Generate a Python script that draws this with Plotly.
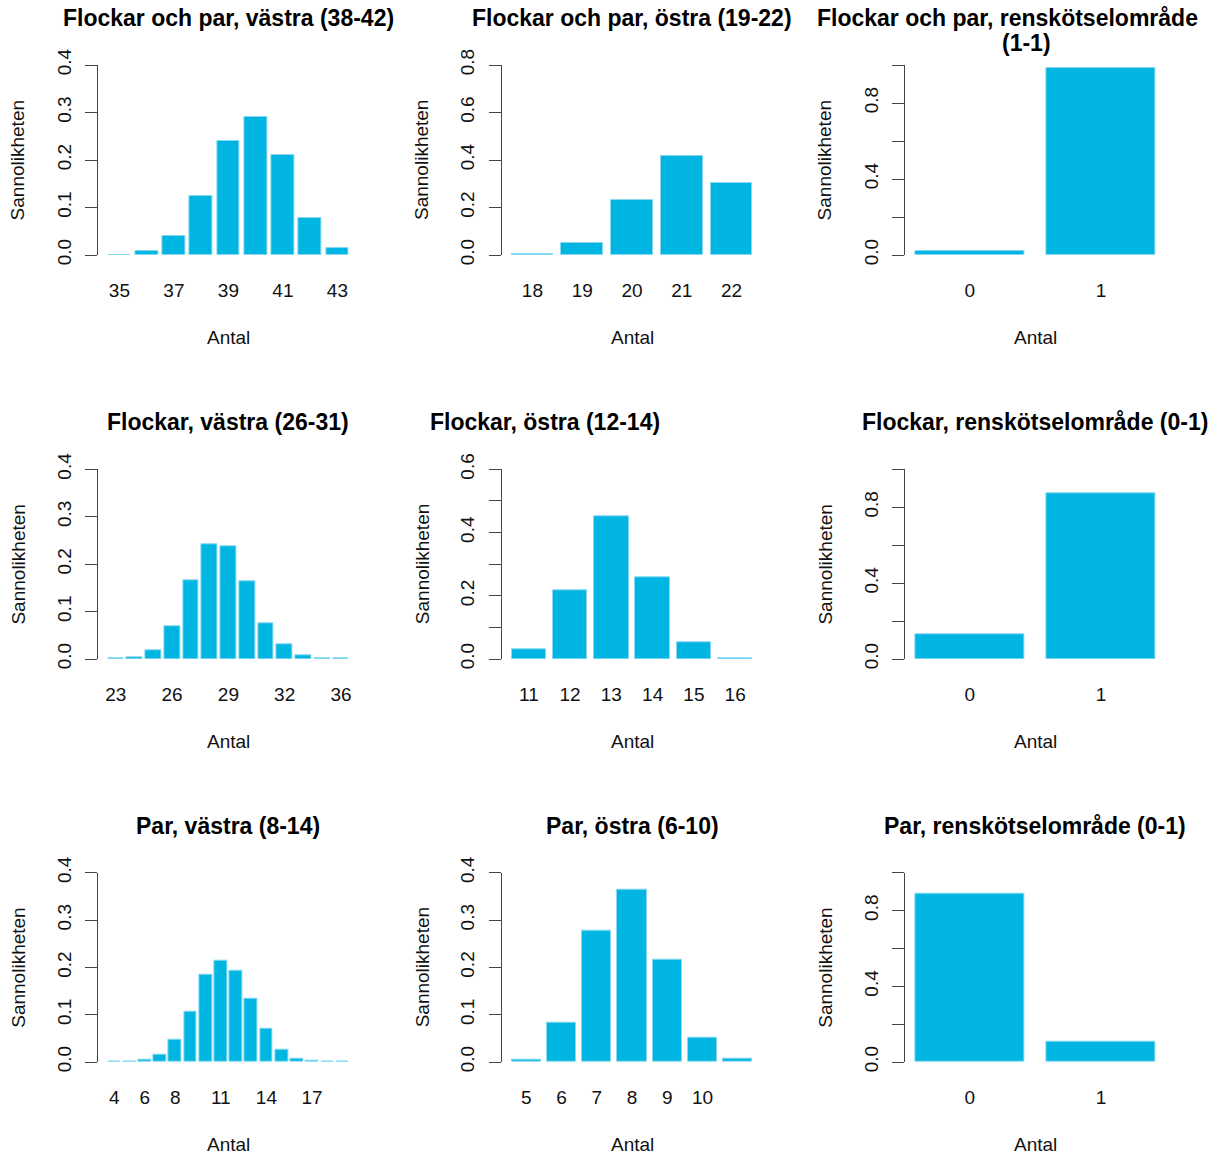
import plotly.graph_objects as go

# ---------------- data ----------------
titles = [
    ["Flockar och par, västra (38-42)"],
    ["Flockar och par, östra (19-22)"],
    ["Flockar och par, renskötselområde", "(1-1)"],
    ["Flockar, västra (26-31)"],
    ["Flockar, östra (12-14)"],
    ["Flockar, renskötselområde (0-1)"],
    ["Par, västra (8-14)"],
    ["Par, östra (6-10)"],
    ["Par, renskötselområde (0-1)"],
]

cats_fp_v = [35, 36, 37, 38, 39, 40, 41, 42, 43]
vals_fp_v = [0.001, 0.008, 0.041, 0.124, 0.240, 0.290, 0.210, 0.078, 0.014]
shown_fp_v = [35, 37, 39, 41, 43]

cats_fp_o = [18, 19, 20, 21, 22]
vals_fp_o = [0.004, 0.049, 0.230, 0.417, 0.305]
shown_fp_o = [18, 19, 20, 21, 22]

cats_fp_r = [0, 1]
vals_fp_r = [0.021, 0.982]
shown_fp_r = [0, 1]

cats_f_v = [23, 24, 25, 26, 27, 28, 29, 30, 31, 32, 33, 34, 36]
vals_f_v = [0.0007, 0.0035, 0.018, 0.070, 0.167, 0.241, 0.238, 0.163, 0.075, 0.031, 0.008, 0.002, 0.001]
shown_f_v = [23, 26, 29, 32, 36]

cats_f_o = [11, 12, 13, 14, 15, 16]
vals_f_o = [0.031, 0.217, 0.452, 0.257, 0.053, 0.003]
shown_f_o = [11, 12, 13, 14, 15, 16]

cats_f_r = [0, 1]
vals_f_r = [0.130, 0.872]
shown_f_r = [0, 1]

cats_p_v = [4, 5, 6, 7, 8, 9, 10, 11, 12, 13, 14, 15, 16, 17, 18, 19]
vals_p_v = [0.0007, 0.0015, 0.004, 0.015, 0.048, 0.106, 0.184, 0.215, 0.192, 0.134, 0.070, 0.025, 0.006, 0.003, 0.0015, 0.0007]
shown_p_v = [4, 6, 8, 11, 14, 17]

cats_p_o = [5, 6, 7, 8, 9, 10, 11]
vals_p_o = [0.004, 0.082, 0.277, 0.365, 0.217, 0.051, 0.006]
shown_p_o = [5, 6, 7, 8, 9, 10]

cats_p_r = [0, 1]
vals_p_r = [0.891, 0.107]
shown_p_r = [0, 1]

# y axis ticks (value, label)
yticks_04 = [0.0, 0.1, 0.2, 0.3, 0.4]
ylabs_04 = ["0.0", "0.1", "0.2", "0.3", "0.4"]
yticks_08 = [0.0, 0.2, 0.4, 0.6, 0.8]
ylabs_08 = ["0.0", "0.2", "0.4", "0.6", "0.8"]
yticks_10 = [0.0, 0.2, 0.4, 0.6, 0.8, 1.0]
ylabs_10 = ["0.0", "", "0.4", "", "0.8", ""]
yticks_06 = [0.0, 0.1, 0.2, 0.3, 0.4, 0.5, 0.6]
ylabs_06 = ["0.0", "", "0.2", "", "0.4", "", "0.6"]

panels = [
    (cats_fp_v, vals_fp_v, shown_fp_v, 0.4, yticks_04, ylabs_04),
    (cats_fp_o, vals_fp_o, shown_fp_o, 0.8, yticks_08, ylabs_08),
    (cats_fp_r, vals_fp_r, shown_fp_r, 1.0, yticks_10, ylabs_10),
    (cats_f_v, vals_f_v, shown_f_v, 0.4, yticks_04, ylabs_04),
    (cats_f_o, vals_f_o, shown_f_o, 0.6, yticks_06, ylabs_06),
    (cats_f_r, vals_f_r, shown_f_r, 1.0, yticks_10, ylabs_10),
    (cats_p_v, vals_p_v, shown_p_v, 0.4, yticks_04, ylabs_04),
    (cats_p_o, vals_p_o, shown_p_o, 0.4, yticks_04, ylabs_04),
    (cats_p_r, vals_p_r, shown_p_r, 1.0, yticks_10, ylabs_10),
]

# ---------------- layout geometry (pixels) ----------------
W, H = 1222, 1155
col_left = [98.4, 502.0, 905.4]
plot_w = 260.0
row_zero = [255.0, 659.0, 1062.0]
row_top = [65.0, 469.3, 872.7]
title_y = [18.0, 422.0, 826.0]
title_line_gap = 25.0
# titles that are not centred over their plot region in the original
title_centres_special = {2: [1007.0, 1026.0], 4: [545.0]}

FONT = "Liberation Sans, Arial, Helvetica, sans-serif"
BAR = "#00B5E2"
EDGE = "#86D9F2"

def px_x(x):
    return x / W

def px_y(y):
    return 1 - y / H

fig = go.Figure()
annotations = []
layout = {}

for k, (cats, vals, shown, ymax, ytv, ytt) in enumerate(panels):
    r, c = divmod(k, 3)
    n = len(cats)
    centers = [0.7 + 1.2 * i for i in range(n)]
    span = 1.2 * n - 0.2
    xr = [0.2 - 0.04 * span, 1.2 * n + 0.04 * span]
    xa = "x" if k == 0 else f"x{k+1}"
    ya = "y" if k == 0 else f"y{k+1}"
    fig.add_trace(go.Bar(
        x=centers, y=vals, width=1.0,
        marker=dict(color=BAR, line=dict(color=EDGE, width=1)),
        xaxis=xa, yaxis=ya, showlegend=False, hoverinfo="skip",
    ))
    tv = [centers[cats.index(s)] for s in shown]
    tt = [str(s) for s in shown]
    xkey = "xaxis" if k == 0 else f"xaxis{k+1}"
    ykey = "yaxis" if k == 0 else f"yaxis{k+1}"
    layout[xkey] = dict(
        domain=[px_x(col_left[c]), px_x(col_left[c] + plot_w)],
        range=xr, anchor=ya, showgrid=False, zeroline=False, showline=False,
        ticks="", tickmode="array", tickvals=tv, ticktext=tt,
        tickfont=dict(family=FONT, size=19, color="#111"),
        ticklabelstandoff=22, fixedrange=True, automargin=False,
    )
    layout[ykey] = dict(
        domain=[px_y(row_zero[r]), px_y(row_top[r])],
        range=[0, ymax], anchor=xa, showgrid=False, zeroline=False,
        showline=True, linecolor="#444", linewidth=1,
        ticks="outside", ticklen=12, tickcolor="#444", tickwidth=1,
        tickmode="array", tickvals=ytv, ticktext=ytt, tickangle=-90,
        tickfont=dict(family=FONT, size=19, color="#111"),
        ticklabelstandoff=7, fixedrange=True, automargin=False,
    )
    cx = col_left[c] + plot_w / 2
    centres = title_centres_special.get(k, [cx] * len(titles[k]))
    for j, line in enumerate(titles[k]):
        annotations.append(dict(
            text="<b>" + line + "</b>", x=px_x(centres[j]),
            y=px_y(title_y[r] + j * title_line_gap),
            xref="paper", yref="paper", xanchor="center", yanchor="middle",
            showarrow=False, font=dict(family=FONT, size=23, color="#000"),
        ))
    annotations.append(dict(
        text="Antal", x=px_x(cx), y=px_y(row_zero[r] + 82),
        xref="paper", yref="paper", xanchor="center", yanchor="middle",
        showarrow=False, font=dict(family=FONT, size=19, color="#111"),
    ))
    annotations.append(dict(
        text="Sannolikheten", x=px_x(col_left[c] - 80), y=px_y((row_zero[r] + row_top[r]) / 2),
        xref="paper", yref="paper", xanchor="center", yanchor="middle", textangle=-90,
        showarrow=False, font=dict(family=FONT, size=19, color="#111"),
    ))

fig.update_layout(
    width=W, height=H, margin=dict(l=0, r=0, t=0, b=0, autoexpand=False),
    paper_bgcolor="white", plot_bgcolor="white",
    annotations=annotations, bargap=0, **layout,
)

fig.write_html(
    "out.html",
    config={"displayModeBar": False},
    post_script="document.body.style.margin='0';document.body.style.overflow='hidden';",
)
